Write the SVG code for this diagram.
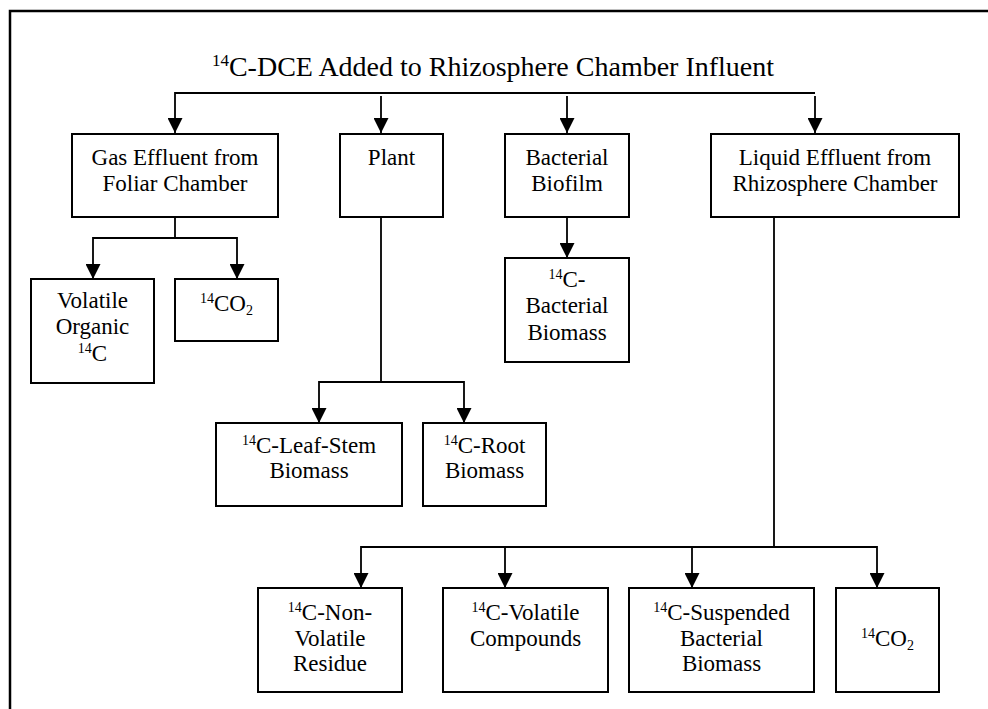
<svg xmlns="http://www.w3.org/2000/svg" width="988" height="709" viewBox="0 0 988 709">
<style>
.box{fill:#fff;stroke:#000;stroke-width:2}
.ln{fill:none;stroke:#000;stroke-width:1.8}
.t{font-family:"Liberation Serif","Times New Roman",serif;font-size:23px;fill:#000;text-anchor:middle}
.ttl{font-family:"Liberation Serif","Times New Roman",serif;font-size:28px;fill:#000;text-anchor:middle}
</style>
<defs>
<marker id="ah" markerUnits="userSpaceOnUse" markerWidth="15" markerHeight="15" refX="15" refY="7.5" orient="auto">
<path d="M0,0 L15,7.5 L0,15 z" fill="#000"/>
</marker>
</defs>
<rect width="988" height="709" fill="#fff"/>
<path d="M10,709 V11 H988" fill="none" stroke="#000" stroke-width="2.5"/>
<text id="title" class="ttl" x="493" y="76"><tspan font-size="17" dy="-10">14</tspan><tspan dy="10">C-DCE Added to Rhizosphere Chamber Influent</tspan></text>

<g id="connectors">
<path class="ln" d="M815,93 H175 V133" marker-end="url(#ah)"/>
<path class="ln" d="M381,96 V133" marker-end="url(#ah)"/>
<path class="ln" d="M567,96 V133" marker-end="url(#ah)"/>
<path class="ln" d="M815,96 V133" marker-end="url(#ah)"/>
<path class="ln" d="M175,217 V238 H93 V279" marker-end="url(#ah)"/>
<path class="ln" d="M175,238 H237 V279" marker-end="url(#ah)"/>
<path class="ln" d="M567,217 V258" marker-end="url(#ah)"/>
<path class="ln" d="M381,217 V382 H319 V423" marker-end="url(#ah)"/>
<path class="ln" d="M381,382 H464 V423" marker-end="url(#ah)"/>
<path class="ln" d="M774,217 V547 H361 V588" marker-end="url(#ah)"/>
<path class="ln" d="M774,547 H877 V588" marker-end="url(#ah)"/>
<path class="ln" d="M505,547 V588" marker-end="url(#ah)"/>
<path class="ln" d="M692,547 V588" marker-end="url(#ah)"/>
</g>

<g id="gas">
<rect class="box" x="72" y="134" width="206" height="83"/>
<text class="t" x="175" y="165">Gas Effluent from</text>
<text class="t" x="175" y="191">Foliar Chamber</text>
</g>
<g id="plant">
<rect class="box" x="340" y="134" width="103" height="83"/>
<text class="t" x="391.5" y="165">Plant</text>
</g>
<g id="biofilm">
<rect class="box" x="505" y="134" width="124" height="83"/>
<text class="t" x="567" y="165">Bacterial</text>
<text class="t" x="567" y="191">Biofilm</text>
</g>
<g id="liquid">
<rect class="box" x="711" y="134" width="248" height="83"/>
<text class="t" x="835" y="165">Liquid Effluent from</text>
<text class="t" x="835" y="191">Rhizosphere Chamber</text>
</g>
<g id="volorg">
<rect class="box" x="31" y="279" width="123" height="104"/>
<text class="t" x="92.5" y="308">Volatile</text>
<text class="t" x="92.5" y="334">Organic</text>
<text class="t" x="92.5" y="361"><tspan font-size="14" dy="-8">14</tspan><tspan dy="8">C</tspan></text>
</g>
<g id="co2a">
<rect class="box" x="175" y="279" width="103" height="62"/>
<text class="t" x="226.5" y="311"><tspan font-size="14" dy="-8">14</tspan><tspan dy="8">CO</tspan><tspan font-size="14" dy="4">2</tspan></text>
</g>
<g id="bactbio">
<rect class="box" x="505" y="258" width="124" height="104"/>
<text class="t" x="567" y="287"><tspan font-size="14" dy="-8">14</tspan><tspan dy="8">C-</tspan></text>
<text class="t" x="567" y="313">Bacterial</text>
<text class="t" x="567" y="340">Biomass</text>
</g>
<g id="leafstem">
<rect class="box" x="216" y="423" width="186" height="83"/>
<text class="t" x="309" y="453"><tspan font-size="14" dy="-8">14</tspan><tspan dy="8">C-Leaf-Stem</tspan></text>
<text class="t" x="309" y="478">Biomass</text>
</g>
<g id="root">
<rect class="box" x="423" y="423" width="123" height="83"/>
<text class="t" x="484.5" y="453"><tspan font-size="14" dy="-8">14</tspan><tspan dy="8">C-Root</tspan></text>
<text class="t" x="484.5" y="478">Biomass</text>
</g>
<g id="nonvol">
<rect class="box" x="258" y="588" width="144" height="104"/>
<text class="t" x="330" y="620"><tspan font-size="14" dy="-8">14</tspan><tspan dy="8">C-Non-</tspan></text>
<text class="t" x="330" y="646">Volatile</text>
<text class="t" x="330" y="671">Residue</text>
</g>
<g id="volcomp">
<rect class="box" x="443" y="588" width="165" height="104"/>
<text class="t" x="525.5" y="620"><tspan font-size="14" dy="-8">14</tspan><tspan dy="8">C-Volatile</tspan></text>
<text class="t" x="525.5" y="646">Compounds</text>
</g>
<g id="suspended">
<rect class="box" x="629" y="588" width="185" height="104"/>
<text class="t" x="721.5" y="620"><tspan font-size="14" dy="-8">14</tspan><tspan dy="8">C-Suspended</tspan></text>
<text class="t" x="721.5" y="646">Bacterial</text>
<text class="t" x="721.5" y="671">Biomass</text>
</g>
<g id="co2b">
<rect class="box" x="836" y="588" width="103" height="104"/>
<text class="t" x="887.5" y="646"><tspan font-size="14" dy="-8">14</tspan><tspan dy="8">CO</tspan><tspan font-size="14" dy="4">2</tspan></text>
</g>
</svg>
